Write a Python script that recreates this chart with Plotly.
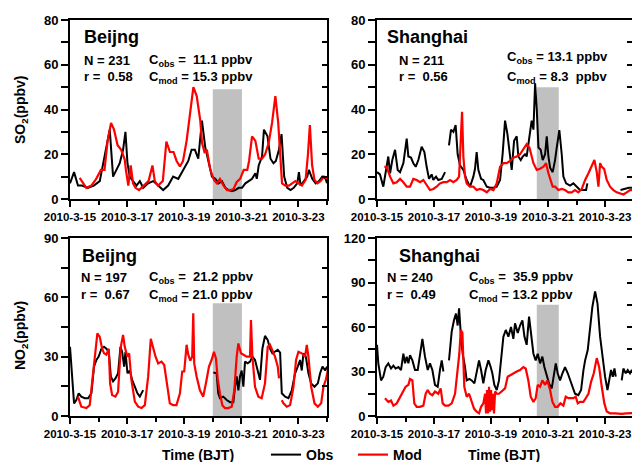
import pandas as pd
import plotly.graph_objects as go

START = pd.Timestamp("2010-03-15")

# ---------------- data (hours since 2010-03-15 00:00 BJT, ppbv) ----------------
so2_bj_obs_h = [0, 3.4, 6.7, 10, 15, 20, 25, 27.8, 30.6, 33.4, 36.2, 39, 41.8, 44.6, 46.6, 48.3, 50.2, 53, 55.9,
                58.7, 61.5, 65.7, 69.9, 74.1, 78.3, 82.5, 86.7, 91, 95.2, 99.4, 102.2, 105, 107.8, 110.9, 113.7,
                116.5, 119.3, 122.1, 124.9, 127.7, 130.5, 133.3, 136.1, 138.9, 141.8, 144.6, 147.4, 150.2, 153,
                155.8, 157, 158.6, 161.4, 163, 166, 168.5, 171, 173, 175.6, 177.8, 180, 182.6, 185.4, 188, 191,
                192.4, 193.8, 196.6, 199.4, 200.8, 203.6, 206.5, 209.3, 212, 214.9, 216]
so2_bj_obs = [7, 12, 6, 6, 5, 6, 8, 16, 24, 31, 10, 13, 16, 22, 30, 16, 10, 8, 6,
              8, 5, 7, 8, 6, 4, 6, 10, 9, 13, 17, 22, 22, 18, 35, 23,
              16, 10, 9, 7, 8, 5, 4, 3.5, 4, 5, 5, 7, 8, 9,
              11.5, 9, 15, 19, 31, 28, 18, 16, 17, 22, 29, 10, 5, 4, 5, 7,
              12, 6, 8, 10, 13, 9, 7, 8, 10, 9, 7]
so2_bj_mod_h = [8.1, 13.7, 18, 22, 26, 29, 31.6, 34.5, 37, 40, 43, 46, 47, 49, 51, 53, 55, 58, 62, 66, 69.3, 71.3,
                74, 78, 81, 84, 87, 89.6, 92.4, 95, 98, 101, 103.7, 106.5, 109.5, 111, 113, 115, 116.5, 118, 121,
                123.5, 126, 129, 132, 135, 137.5, 140, 143, 146, 149, 150.5, 153, 155.8, 158.6, 161.4, 164, 167,
                169.8, 172.6, 175, 177, 178.2, 181, 184, 186.7, 189.5, 192, 195, 198, 200, 201.6, 203.5, 205.5,
                208, 210.5, 213.5, 216]
so2_bj_mod = [9.4, 5, 6, 9, 13, 13, 26, 34, 31, 24, 22, 17.6, 13, 6, 15, 7, 5, 4, 6, 8, 15, 8,
              6, 8, 25.6, 21, 21, 17, 14.5, 17, 26, 40, 50, 46, 35, 25, 21, 22, 17.4, 13, 8.5,
              7, 9, 6, 4, 4, 4.5, 7.5, 9, 13, 13, 17, 28, 26, 18, 18, 20, 25,
              34, 46, 34, 18, 7, 6, 6, 7, 8, 7, 6, 8.5, 20, 33, 15, 8.5,
              7, 8, 10, 9]

so2_sh_obs_h = [0, 2.5, 5.3, 8.1, 9.5, 11, 12.9, 15.2, 17.4, 19.4, 22.2, 25, 26.4, 28.6, 30.6, 32.6, 34.8, 37.6,
                39.9, 41.8, 43.8, 46, 47.4, 49.7, 51.6, 54.5, 57.3, 59, 60.6, 62.3, 64.3, 66.2, 67.9, 69.9, 72.7,
                75.5, 78.3, 81.1, 82.5, 83.9, 85.3, 87.6, 89.5, 92.4, 95.2, 98, 100.8, 103.6, 105.8, 107.8, 109.8,
                112, 113.4, 115.4, 117.6, 119, 121, 122.7, 124.6, 126, 128.3, 130.2, 131.7, 133.1, 134.5, 135.9,
                137.8, 139.5, 141.5, 142.9, 144.3, 145.7, 147.9, 149.9, 151.3, 153.5, 155.5, 156.9, 159.2, 162.5,
                165.3, 168.1, 170.9, 173.8, 176, 177.1, 190, 205, 208, 212, 216]
so2_sh_obs = [12, 11, 5.5, 14.4, 19, 11.5, 17.4, 22, 13, 12, 16, 27, 19, 18.5, 16, 14.4, 17.4, 23.4,
              21, 14.4, 9, 11, 8.5, 10, 8.5, 9, 12, None, 24, 31, 30, 33, 20, 15, 13,
              8.5, 5.5, 10, 13.5, 21, 13, 9, 8.5, 5.5, 5, 5, 5.5, 8.5, 20.4, 35, 29,
              17.4, 13, 26, 28, 19, 17.4, 19, 20, 19, 29, 35, 31, 51.7, 40, 23,
              22, 17.4, 20, 28, 19, 14, 12, 17.4, 23, 30.8, 20, 10, 7, 6,
              7, 5.5, 4, 4, 4, 7, None, 4, 4.5, 5, 5]
so2_sh_mod_h = [6.2, 8.1, 11, 13.8, 16.6, 19.4, 22.2, 25, 27.8, 30.6, 33.4, 36.2, 39, 41.8, 44.6, 47.4, 50.2, 53,
                55.9, 58.7, 61.5, 64.3, 67.1, 69.1, 70.7, 71.6, 72.7, 74.1, 75.5, 78.3, 81.1, 83.9, 86.7, 89.5,
                92.4, 95.2, 98, 100.8, 103.6, 106.4, 109.2, 112, 114.8, 117.6, 120.4, 123.2, 126, 128.3, 130.2,
                131.7, 134.5, 137.3, 140.1, 142.3, 144.3, 146.2, 147.9, 149.9, 152.7, 155.5, 158.3, 161.1, 163.9,
                166.7, 169.5, 172.4, 175.2, 178, 180.8, 183, 185, 186.4, 187.8, 189.2, 191.2, 193.4, 196.2, 199,
                201.8, 204.6, 207.4, 210.2, 213, 215.9]
so2_sh_mod = [14.4, 14.4, 10, 7, 7.5, 9, 7.5, 5.5, 5.5, 9, 8.5, 7.5, 8.5, 6, 4, 4.5, 5.5, 7,
              7.5, 7.5, 8.5, 7.5, 8.5, 10, 26, 39, 19, 10, 7, 5.5, 5.5, 4, 4.5, 4,
              3, 4.5, 4, 7, 14.4, 16, 16, 17, 18.5, 19, 20, 22, 24.5, 23, 18.5,
              16, 13, 13.5, 14.4, 16, 11.5, 8.5, 5.5, 5.5, 4, 4.5, 4, 3, 3,
              4, 3, 4.5, 8.5, 11.5, 14.4, 17.4, 12, 5.5, 16, 14.4, 13.5, 8.5, 5.5, 4,
              3, 2.5, 2, 3, 4, 4]

no2_bj_obs_h = [0, 1.5, 2.5, 3.4, 5.3, 7.3, 9.5, 12.4, 15.2, 18, 20.2, 22.2, 24.1, 26.4, 28.6, 30.6, 32.6, 34.3,
                36.2, 38.2, 40.4, 42.4, 43.8, 45.5, 46.6, 48.3, 50.2, 52.2, 54.5, 56.7, 58.7, 61.5, 90, 120.5,
                123.2, 124.6, 126, 128.8, 131.7, 134.5, 137.3, 138.7, 140.1, 141.5, 142.9, 144.3, 145.7, 147.1,
                149.3, 151.3, 153.3, 155.5, 157.8, 159.7, 161.7, 163.9, 166.2, 168.1, 170.1, 172.3, 174.6, 176.6,
                178, 180.8, 183.6, 186.4, 189.2, 191.4, 193.4, 194.8, 196.2, 198.2, 200.4, 202.7, 205.5, 208.3,
                210.2, 212.2, 214.5, 216]
no2_bj_obs = [35, 22, 10, 6.4, 8.1, 11.5, 9.8, 9, 9, 11.5, 25, 28.3, 30, 34, 35, 34, 32.5, 20,
              17.5, 19, 21.6, 35, 32.5, 25, 32.5, 21.6, 23, 18.3, 14.8, 11.5, 9.8, 13.1, None, 22,
              21.6, 11.5, 9, 9.8, 8.1, 7, 7, 14.8, 20, 13, 20, 23, 14.8, 27.5,
              26.6, 27.5, 30, 28.3, 23, 18.3, 34, 40.5, 38.4, 34, 31.7, 32.5, 33.5, 32,
              11.5, 9.8, 9, 13, 21.6, 25, 28.3, 23, 31.7, 30, 21.6, 16.5, 14.8, 16.5,
              21.6, 25, 23, 25]
no2_bj_mod_h = [6.7, 9.5, 13.8, 16.6, 18.5, 20.8, 23, 25, 27, 28.6, 30.6, 32.6, 33.7, 35.4, 38.2, 40.4, 42.7, 44.6,
                46, 48.3, 49.7, 51.6, 54.5, 57.3, 60.1, 62.9, 65.7, 67.9, 69.9, 71.9, 74.1, 76.9, 79.2, 82, 83.9,
                86.7, 89.5, 92.4, 94.3, 96, 98, 99.4, 101.1, 102.7, 103.6, 104.4, 106.4, 109.2, 112, 114.8, 116.8,
                119, 121, 122.7, 124.1, 126, 128, 130.2, 133, 135.9, 138.1, 140.1, 141.5, 143.7, 145.7, 148.5,
                151.3, 152.1, 153.3, 155.5, 158.3, 161.1, 163.9, 166.2, 168.1, 170.1, 172.3, 174.6, 175.7, 177,
                178, 179.4, 182.2, 185, 187.8, 190, 192, 194.8, 197.6, 199, 200.4, 202.7, 205.5, 208.3, 211.1,
                213, 215, 216.7]
no2_bj_mod = [9.8, 4.7, 4, 5.5, 16.5, 30, 41.8, 40, 34, 31.7, 31, 34, 16.5, 10.6, 9.8, 12.3, 35, 41,
              35, 30, 31.7, 18.3, 7.3, 4.7, 4, 5.5, 20, 39, 34, 30, 26.6, 27.5, 25.8, 13, 6.4,
              5.5, 5.5, 11.5, 22.5, 22.5, 36, 31, 28, 30, 52, 26.6, 20, 13, 9.8, 18.3, 25,
              28.3, 32.5, 29, 19, 11.5, 5.5, 4, 4, 4.7, 13, 30, 36.7, 31.7, 31, 30,
              30, 48.5, 30, 14.8, 9.8, 9, 16.5, 35, 36, 33.5, 30, 25, 19, None,
              8, 6.4, 4.7, 5.5, 14.8, 28.3, 32.5, 31.7, 30, 36, 30, 14.8, 6.4, 4.7, 6.4,
              14.8, 18.3, 23]

no2_sh_obs_h = [0, 1.1, 3.4, 5.3, 7.3, 9.5, 11.8, 13.8, 15.7, 18, 20.2, 22.2, 23.6, 25, 26.4, 27.8, 29.8, 32,
                34.3, 36.2, 38.2, 40.4, 42.7, 44.6, 46.6, 48.8, 51.1, 53, 54.5, 55.9, 58, 60.6, 62.9, 64.8, 66.5,
                67.9, 69.1, 70.7, 72.1, 74.1, 75.5, 77.8, 79.7, 82, 83.9, 85.9, 87.6, 89.5, 91.5, 93.8, 95.7,
                97.1, 98.8, 100.8, 102.7, 104.4, 106.4, 108.4, 110.6, 112.8, 114.8, 116.2, 118.5, 120.4, 122.4,
                124.1, 126, 128, 129.7, 131.7, 133.6, 135.3, 137.3, 139.2, 140.9, 142.9, 144.8, 147.1, 148.8,
                150.5, 152.1, 154.1, 156.1, 158.3, 160.6, 162.5, 164.5, 166.7, 169.5, 171.8, 173.8, 175.2, 177.4,
                179.4, 181.3, 183.6, 185.6, 187.8, 189.8, 192, 194, 195.6, 197, 198.5, 199.9, 201, 203.5, 206,
                207.4, 209.4, 211.1, 213, 214.5, 216.5]
no2_sh_obs = [48, 35.5, 24, 26.5, 33, 35.5, 32, 34, 32, 33, 31, 42, 35.5, 40, 35.5, 41, 37.5, 31,
              31, 42, 52, 40, 31, 35.5, 31, 21, 19.7, 31, 37.5, 30, None, 37.5, 57, 64.5, 69,
              61, 72.6, 53.5, 42, 33, 24, 25, 24, 22, 31, 37.5, 31, 22, 31, 37.5, 33,
              28.8, 21, 17.5, 24, 40, 53.5, 58, 53.5, 60, 52, 62.5, 56, 61, 64.5,
              53.5, 48, 67, 56, 42, 37.5, 42, 35.5, 40, 33, 26.5, 22, 18.6, 26.5,
              35.5, 28.8, 24, 28.8, 33, 28.8, 24, 19.7, 15, 14, 17.5, 31, 37.5, 44.5,
              60, 73.5, 84, 76, 53.5, 40, 26.5, 17.5, 24, 31, 26.5, 32, 26.5, None, 24,
              32, 28.8, 31, 28.8, 31, 28]
no2_sh_mod_h = [6.7, 9.5, 11.8, 13.8, 16.6, 19.4, 22.2, 24.1, 26.4, 27.8, 29.8, 31.4, 33.4, 36.2, 39, 41, 42.7,
                44.6, 46.6, 48.8, 51.6, 53.6, 55.3, 57.3, 60.1, 62.9, 65.7, 67.9, 69.3, 70.5, 71.9, 73.5, 75.5,
                77.5, 79.7, 81.7, 83.9, 85.9, 87.6, 89.5, 91, 91.8, 92.6, 93.5, 94.3, 95.2, 96, 96.8, 97.7, 98.5,
                99.4, 100.8, 102.7, 105, 107.8, 110, 112, 114.8, 117.6, 120.4, 123.2, 125.2, 127.4, 129.4,
                131.7, 133.6, 135.3, 137.3, 139.2, 141.5, 143.4, 145.7, 147.7, 149.9, 152.1, 154.4, 156.9,
                158.9, 161.1, 163.4, 165.3, 167.3, 169, 170.9, 173.8, 175.7, 178, 180.2, 182.5, 185, 187,
                189.2, 191.4, 193.4, 196.2, 200.4, 206, 210, 214.5, 216.5]
no2_sh_mod = [12, 9.5, 10.5, 7, 8.5, 13, 16.5, 19.7, 21, 25, 24, 8.5, 6.2, 6.2, 7, 15, 17.5,
              15, 14, 16.5, 15, 18.6, 8.5, 7, 7, 8.5, 15, 31, 42, 58, 56, 19.7, 13,
              15, 9.5, 5, 2.9, 1.8, 6.2, 8.5, 15, 1.8, 17.5, 1.8, 19.7, 2.9, 17.5, 4, 15, 1.8,
              16.5, 15, 15, 16.5, 18.6, 26.5, 27.5, 28.8, 30, 31, 33, 32, 24, 13,
              9.5, 12, 21, 19.7, 24, 21, 24, 17.5, 9.5, 6.2, 6.2, 8.5, 7,
              13, 12, 12, 12, 13, 8.5, 9.5, 9.5, 12, 15, 23, 28.8, 39, 33,
              19.7, 8.5, 3, 1.8, 1.8, 1.5, 1.8, 1.8, 2]

# shaded periods (start, end) and their heights (ppbv)
shade_bj = ["2010-03-20 00:00", "2010-03-21 00:30"]
shade_sh = ["2010-03-20 14:30", "2010-03-21 09:00"]
shade_tops = [49, 50, 57, 75]

y_ranges = [[0, 80], [0, 80], [0, 90], [0, 120]]
y_dticks = [20, 20, 30, 30]
y_minor = [10, 10, 15, 15]

panel_text = [
    ["Beijng", "N = 231", "r = \u00a00.58", "C<sub>obs</sub> = \u00a011.1 ppbv", "C<sub>mod</sub> = 15.3 ppbv"],
    ["Shanghai", "N = 211", "r = \u00a00.56", "C<sub>obs</sub> = 13.1 ppbv", "C<sub>mod</sub> = 8.3 \u00a0ppbv"],
    ["Beijng", "N = 197", "r = \u00a00.67", "C<sub>obs</sub> = \u00a021.2 ppbv", "C<sub>mod</sub> = 21.0 ppbv"],
    ["Shanghai", "N = 240", "r = \u00a00.49", "C<sub>obs</sub> = \u00a035.9 ppbv", "C<sub>mod</sub> = 13.2 ppbv"],
]

# ---------------- helpers ----------------
W, H = 632, 462


def px(x):
    return x / W


def py(y):
    return 1 - y / H


def to_time(hours):
    return [START + pd.Timedelta(hours=h) for h in hours]


FONT = "Liberation Sans, Arial, sans-serif"
NARROW = "Liberation Sans Narrow, Arial Narrow, Liberation Sans, sans-serif"

series = [
    (so2_bj_obs_h, so2_bj_obs, so2_bj_mod_h, so2_bj_mod),
    (so2_sh_obs_h, so2_sh_obs, so2_sh_mod_h, so2_sh_mod),
    (no2_bj_obs_h, no2_bj_obs, no2_bj_mod_h, no2_bj_mod),
    (no2_sh_obs_h, no2_sh_obs, no2_sh_mod_h, no2_sh_mod),
]

x_dom = [[px(70), px(327)], [px(377), 1.0], [px(70), px(327)], [px(377), 1.0]]
y_dom = [[py(199), py(20)], [py(199), py(20)], [py(416), py(238)], [py(416), py(238)]]
x_end = ["2010-03-24 00:00", "2010-03-23 22:40", "2010-03-24 00:00", "2010-03-23 22:40"]

fig = go.Figure()

for i, (oh, ov, mh, mv) in enumerate(series):
    xa = "x" if i == 0 else f"x{i+1}"
    ya = "y" if i == 0 else f"y{i+1}"
    fig.add_trace(go.Scatter(x=to_time(oh), y=ov, mode="lines", name="Obs",
                             line=dict(color="black", width=2), xaxis=xa, yaxis=ya,
                             showlegend=(i == 0), connectgaps=False))
    fig.add_trace(go.Scatter(x=to_time(mh), y=mv, mode="lines", name="Mod",
                             line=dict(color="#ff0000", width=2.2), xaxis=xa, yaxis=ya,
                             showlegend=(i == 0), connectgaps=False))
    # empty trace to register the right-side tick axis
    fig.add_trace(go.Scatter(x=[], y=[], xaxis=xa, yaxis=f"y{i+5}", showlegend=False,
                             hoverinfo="skip"))

layout = dict(
    width=W, height=H, autosize=False,
    margin=dict(l=0, r=0, t=0, b=0, pad=0, autoexpand=False),
    paper_bgcolor="white", plot_bgcolor="white",
    font=dict(family=FONT, size=13, color="black"),
    showlegend=True,
    legend=dict(orientation="h", x=px(266), xanchor="left", y=py(455), yanchor="middle",
                font=dict(family=FONT, size=14, color="black", weight="bold"),
                bgcolor="rgba(0,0,0,0)", itemwidth=30, tracegroupgap=0,
                entrywidth=42, entrywidthmode="pixels"),
)

for i in range(4):
    xk = "xaxis" if i == 0 else f"xaxis{i+1}"
    yk = "yaxis" if i == 0 else f"yaxis{i+1}"
    ya = "y" if i == 0 else f"y{i+1}"
    xa = "x" if i == 0 else f"x{i+1}"
    layout[xk] = dict(
        domain=x_dom[i], anchor=ya, type="date", automargin=False,
        range=["2010-03-15 00:00", x_end[i]],
        tick0="2010-03-15", dtick=2 * 86400000, tickformat="%Y-%-m-%-d", tickangle=0,
        ticks="outside", ticklen=6, tickwidth=1.5, tickcolor="black",
        minor=dict(dtick=86400000, ticks="outside", ticklen=4, tickwidth=1.5, tickcolor="black"),
        showline=True, linewidth=1.8, linecolor="black", mirror=True,
        showgrid=False, zeroline=False,
        tickfont=dict(family=NARROW, size=11.5, color="black", weight="bold"),
    )
    layout[yk] = dict(
        domain=y_dom[i], anchor=xa, range=y_ranges[i], automargin=False,
        tick0=0, dtick=y_dticks[i],
        ticks="outside", ticklen=7, tickwidth=1.5, tickcolor="black",
        minor=dict(dtick=y_minor[i], ticks="outside", ticklen=7, tickwidth=1.5, tickcolor="black"),
        showline=True, linewidth=1.8, linecolor="black", mirror=True,
        showgrid=False, zeroline=False,
        tickfont=dict(family=FONT, size=13, color="black", weight="bold"),
    )
    layout[f"yaxis{i+5}"] = dict(
        overlaying=ya, anchor=xa, side="right", range=y_ranges[i], automargin=False,
        tick0=0, dtick=y_dticks[i], showticklabels=False,
        ticks="inside", ticklen=5, tickwidth=1.5, tickcolor="black",
        minor=dict(dtick=y_minor[i], ticks="inside", ticklen=5, tickwidth=1.5, tickcolor="black"),
        showline=False, showgrid=False, zeroline=False,
    )

fig.update_layout(**layout)

# shaded boxes
shades = [shade_bj, shade_sh, shade_bj, shade_sh]
for i in range(4):
    xa = "x" if i == 0 else f"x{i+1}"
    ya = "y" if i == 0 else f"y{i+1}"
    fig.add_shape(type="rect", xref=xa, yref=ya, x0=shades[i][0], x1=shades[i][1],
                  y0=0, y1=shade_tops[i], fillcolor="#c0c0c0", line=dict(width=0), layer="below")

# panel annotations: (name xy, N xy, r xy, Cobs xy, Cmod xy) in pixels
ann_pos = [
    [(82, 37), (82, 60), (82, 77), (147, 60), (147, 78)],
    [(385, 37), (397, 60), (397, 77), (505, 58), (505, 78)],
    [(80, 256), (79, 277), (79, 294), (147, 277), (147, 295)],
    [(397, 256), (385, 277), (385, 294), (467, 277), (467, 295)],
]
for i in range(4):
    for j, txt in enumerate(panel_text[i]):
        x, y = ann_pos[i][j]
        if j == 0:
            f = dict(family=FONT, size=18, color="black", weight="bold")
        else:
            f = dict(family=FONT, size=13, color="black", weight="bold")
        fig.add_annotation(text=txt, x=px(x), y=py(y), xref="paper", yref="paper",
                           xanchor="left", yanchor="middle", showarrow=False, font=f)

# axis titles
title_font = dict(family=FONT, size=14, color="black", weight="bold")
fig.add_annotation(text="SO<sub>2</sub>(ppbv)", x=px(21), y=py(110), xref="paper", yref="paper",
                   textangle=-90, showarrow=False, font=title_font, xanchor="center", yanchor="middle")
fig.add_annotation(text="NO<sub>2</sub>(ppbv)", x=px(21), y=py(335), xref="paper", yref="paper",
                   textangle=-90, showarrow=False, font=title_font, xanchor="center", yanchor="middle")
fig.add_annotation(text="Time (BJT)", x=px(198), y=py(455), xref="paper", yref="paper",
                   showarrow=False, font=title_font, xanchor="center", yanchor="middle")
fig.add_annotation(text="Time (BJT)", x=px(504), y=py(455), xref="paper", yref="paper",
                   showarrow=False, font=title_font, xanchor="center", yanchor="middle")

fig.write_html("out.html", config={"displayModeBar": False},
               post_script="document.body.style.margin='0px';")
